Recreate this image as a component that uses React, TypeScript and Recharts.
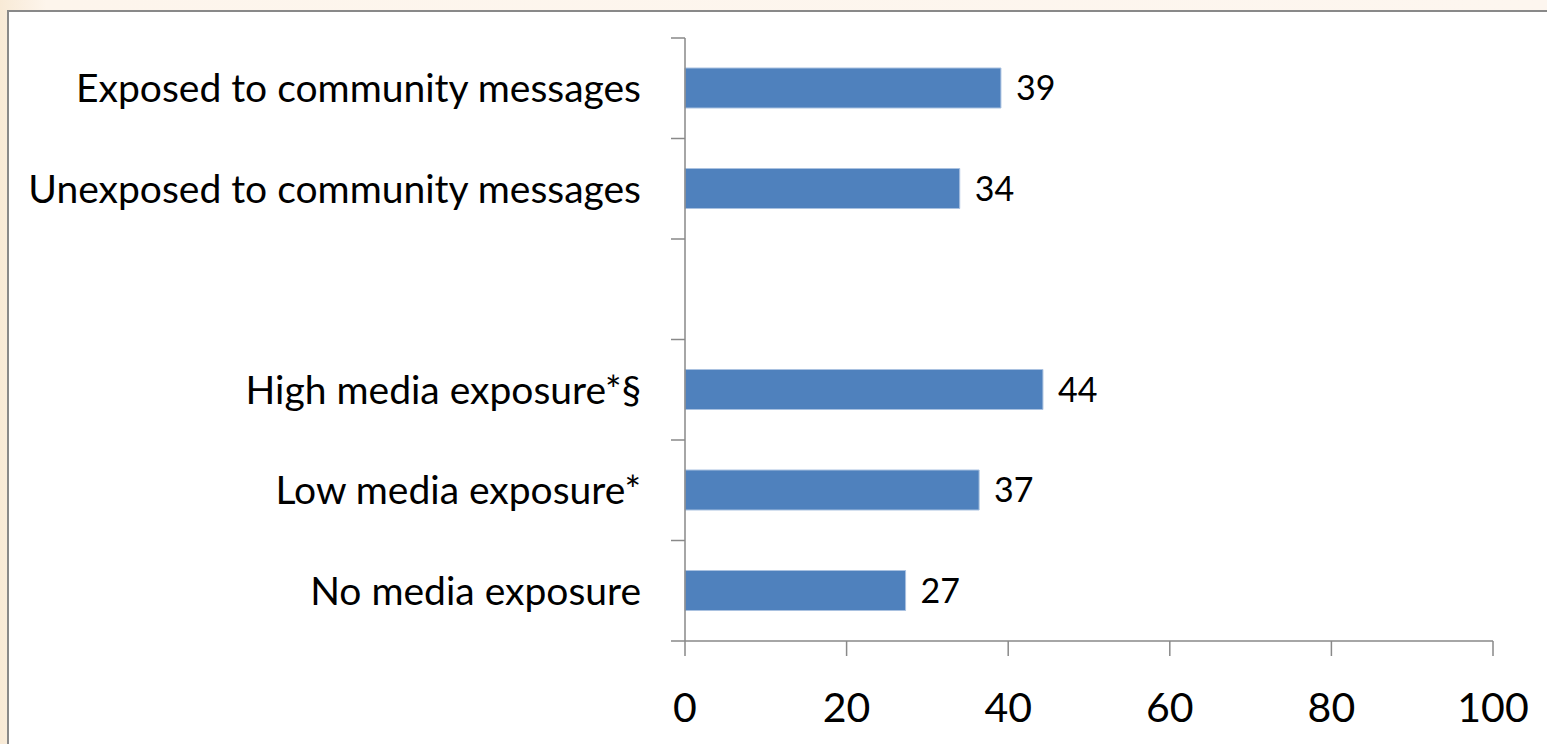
import { Bar, BarChart, LabelList, XAxis, YAxis } from "recharts";

const categories = [
  "Exposed to community messages",
  "Unexposed to community messages",
  "",
  "High media exposure*§",
  "Low media exposure*",
  "No media exposure",
];
const values = [39.1, 34.0, null, 44.3, 36.4, 27.3];
const valueLabels = ["39", "34", "", "44", "37", "27"];
const xTicks = [0, 20, 40, 60, 80, 100];

const data = categories.map((name, i) => ({
  name,
  value: values[i],
  label: valueLabels[i],
}));

const axisGray = "#898989";
const font = "Lato, 'Open Sans', sans-serif";
const labelGap = 44;
const markLen = 14;

// category label plus Excel-style tick marks on the band boundaries
function CategoryTick(props: any) {
  const { x, y, payload, index, visibleTicksCount } = props;
  const half = payload?.offset ?? 0;
  const ax = x + labelGap;
  const isLast = index === visibleTicksCount - 1;
  return (
    <g>
      <line x1={ax - markLen} x2={ax} y1={y - half} y2={y - half} stroke={axisGray} strokeWidth={1.5} />
      {isLast && (
        <line x1={ax - markLen} x2={ax} y1={y + half} y2={y + half} stroke={axisGray} strokeWidth={1.5} />
      )}
      <text x={x} y={y} dy="0.36em" textAnchor="end" fill="#000" fontSize={39} fontFamily={font}>
        {payload?.value}
      </text>
    </g>
  );
}

export default function App() {
  return (
    <div
      style={{
        position: "fixed",
        left: 0,
        top: 0,
        width: 1547,
        height: 744,
        overflow: "hidden",
        background: "linear-gradient(90deg, #f8ead6 0%, #fdf5ec 3%, #fdf6ef 100%)",
      }}
    >
      <div
        style={{
          position: "absolute",
          left: 7,
          top: 10,
          width: 1600,
          height: 800,
          background: "#fff",
          borderLeft: `2px solid ${axisGray}`,
          borderTop: `2px solid ${axisGray}`,
        }}
      />
      <div style={{ position: "absolute", left: 0, top: 0 }}>
        <BarChart
          width={1547}
          height={744}
          data={data}
          layout="vertical"
          margin={{ top: 38, right: 54, bottom: 0, left: 0 }}
          style={{ fontFamily: font }}
        >
          <YAxis
            type="category"
            dataKey="name"
            width={685}
            axisLine={{ stroke: axisGray, strokeWidth: 1.5 }}
            tickLine={false}
            tickSize={0}
            tickMargin={labelGap}
            interval={0}
            tick={<CategoryTick />}
          />
          <XAxis
            type="number"
            domain={[0, 100]}
            ticks={xTicks}
            height={103}
            tickSize={15}
            tickMargin={37}
            axisLine={{ stroke: axisGray, strokeWidth: 1.5 }}
            tickLine={{ stroke: axisGray, strokeWidth: 1.5 }}
            tick={{ fill: "#000", fontSize: 41, fontFamily: font }}
          />
          <Bar
            dataKey="value"
            barSize={40}
            fill="#4f81bd"
            stroke="#a9c1e0"
            strokeWidth={1}
            isAnimationActive={false}
          >
            <LabelList
              dataKey="label"
              position="right"
              offset={15}
              fill="#000"
              fontSize={34}
              fontFamily={font}
            />
          </Bar>
        </BarChart>
      </div>
    </div>
  );
}
